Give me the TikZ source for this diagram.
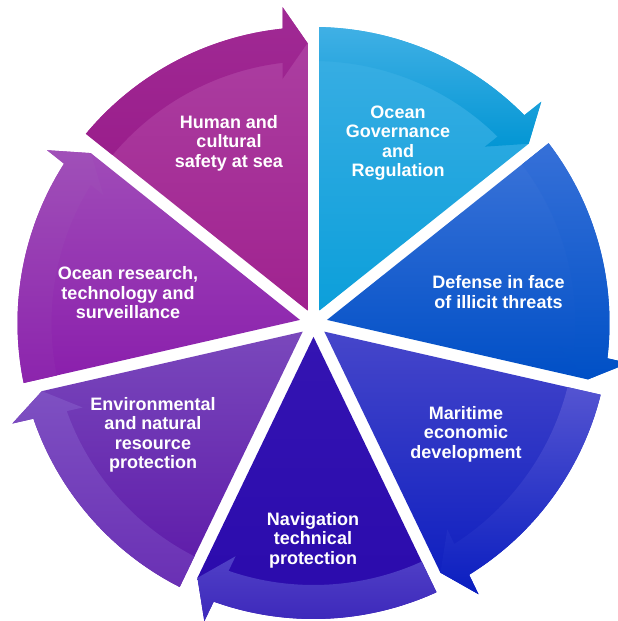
\documentclass[tikz,border=0pt]{standalone}
\usepackage{fontspec}
\setmainfont{Liberation Sans}
% sector colours: interior top/bottom, arrow band top/bottom
\definecolor{ogA}{HTML}{3CAFE4}\definecolor{ogB}{HTML}{0C9FDA}\definecolor{ogC}{HTML}{40B0E5}\definecolor{ogD}{HTML}{0396D4}
\definecolor{dfA}{HTML}{3C74D9}\definecolor{dfB}{HTML}{004FC6}\definecolor{dfC}{HTML}{3670D8}\definecolor{dfD}{HTML}{0050C6}
\definecolor{maA}{HTML}{4646CA}\definecolor{maB}{HTML}{0B1DBF}\definecolor{maC}{HTML}{5454D1}\definecolor{maD}{HTML}{0A1EC0}
\definecolor{nvA}{HTML}{3414B2}\definecolor{nvB}{HTML}{2A0AAC}\definecolor{nvC}{HTML}{5040C6}\definecolor{nvD}{HTML}{3B26BA}
\definecolor{enA}{HTML}{7A48BC}\definecolor{enB}{HTML}{5C18A8}\definecolor{enC}{HTML}{7E50C2}\definecolor{enD}{HTML}{6A30B4}
\definecolor{reA}{HTML}{A04CB8}\definecolor{reB}{HTML}{8A1EAC}\definecolor{reC}{HTML}{A050B8}\definecolor{reD}{HTML}{8C24AD}
\definecolor{huA}{HTML}{AD42A3}\definecolor{huB}{HTML}{A0228F}\definecolor{huC}{HTML}{A02A94}\definecolor{huD}{HTML}{9A1E8C}
\begin{document}
\begin{tikzpicture}[x=1pt,y=1pt,
  seglabel/.style={text=white, font=\bfseries\fontsize{18}{19.5}\selectfont, align=center, inner sep=0pt}]
\useasboundingbox (0,0) rectangle (618,621);
\clip (0,0) rectangle (618,621);
\def\Rout{296}\def\Rin{262}\def\halfgap{6}
\begin{scope}[shift={(313.5,298)}]
\foreach \k/\ca/\cb/\cc/\cd in {0/ogA/ogB/ogC/ogD,1/dfA/dfB/dfC/dfD,2/maA/maB/maC/maD,
    3/nvA/nvB/nvC/nvD,4/enA/enB/enC/enD,5/reA/reB/reC/reD,6/huA/huB/huC/huD}{
  \pgfmathsetmacro\angS{90-\k*360/7}
  \pgfmathsetmacro\angE{\angS-360/7}
  \pgfmathsetmacro\angM{\angS-180/7}
  \pgfmathsetmacro\rV{\halfgap/sin(180/7)}
  \pgfmathsetmacro\sOut{\angS-asin(\halfgap/\Rout)}
  \pgfmathsetmacro\sIn{\angS-asin(\halfgap/\Rin)}
  \pgfmathsetmacro\nOut{\angE+asin(31/\Rout)}
  \pgfmathsetmacro\nIn{\angE+asin(31/\Rin)}
  \pgfmathsetmacro\tipA{\angE+atan(6/280)}
  \pgfmathsetmacro\tipR{veclen(280,6)}
  \pgfmathsetmacro\obA{\angE+atan(31/316)}
  \pgfmathsetmacro\obR{veclen(316,31)}
  \pgfmathsetmacro\ibA{\angE+atan(31/244)}
  \pgfmathsetmacro\ibR{veclen(244,31)}
  % pie slice ending in an arrowhead
  \shade[top color=\ca, bottom color=\cb]
    (\angM:\rV) -- (\sOut:\Rout) arc[start angle=\sOut, end angle=\nOut, radius=\Rout pt]
    -- (\obA:\obR) -- (\tipA:\tipR) -- cycle;
  % curved arrow along the rim
  \shade[top color=\cc, bottom color=\cd]
    (\sIn:\Rin) -- (\sOut:\Rout) arc[start angle=\sOut, end angle=\nOut, radius=\Rout pt]
    -- (\obA:\obR) -- (\tipA:\tipR) -- (\ibA:\ibR) -- (\nIn:\Rin)
    arc[start angle=\nIn, end angle=\sIn, radius=\Rin pt] -- cycle;
}
\end{scope}
\node[seglabel] (gov) at (398,478) {Ocean\\Governance\\and\\Regulation};
\node[seglabel] (def) at (498.5,329) {Defense in face\\of illicit threats};
\node[seglabel] (eco) at (466,187) {Maritime\\economic\\development};
\node[seglabel] (nav) at (313,81) {Navigation\\technical\\protection};
\node[seglabel] (env) at (153,186) {Environmental\\and natural\\resource\\protection};
\node[seglabel] (res) at (128,328) {Ocean research,\\technology and\\surveillance};
\node[seglabel] (hum) at (229,478) {Human and\\cultural\\safety at sea};
\end{tikzpicture}
\end{document}
